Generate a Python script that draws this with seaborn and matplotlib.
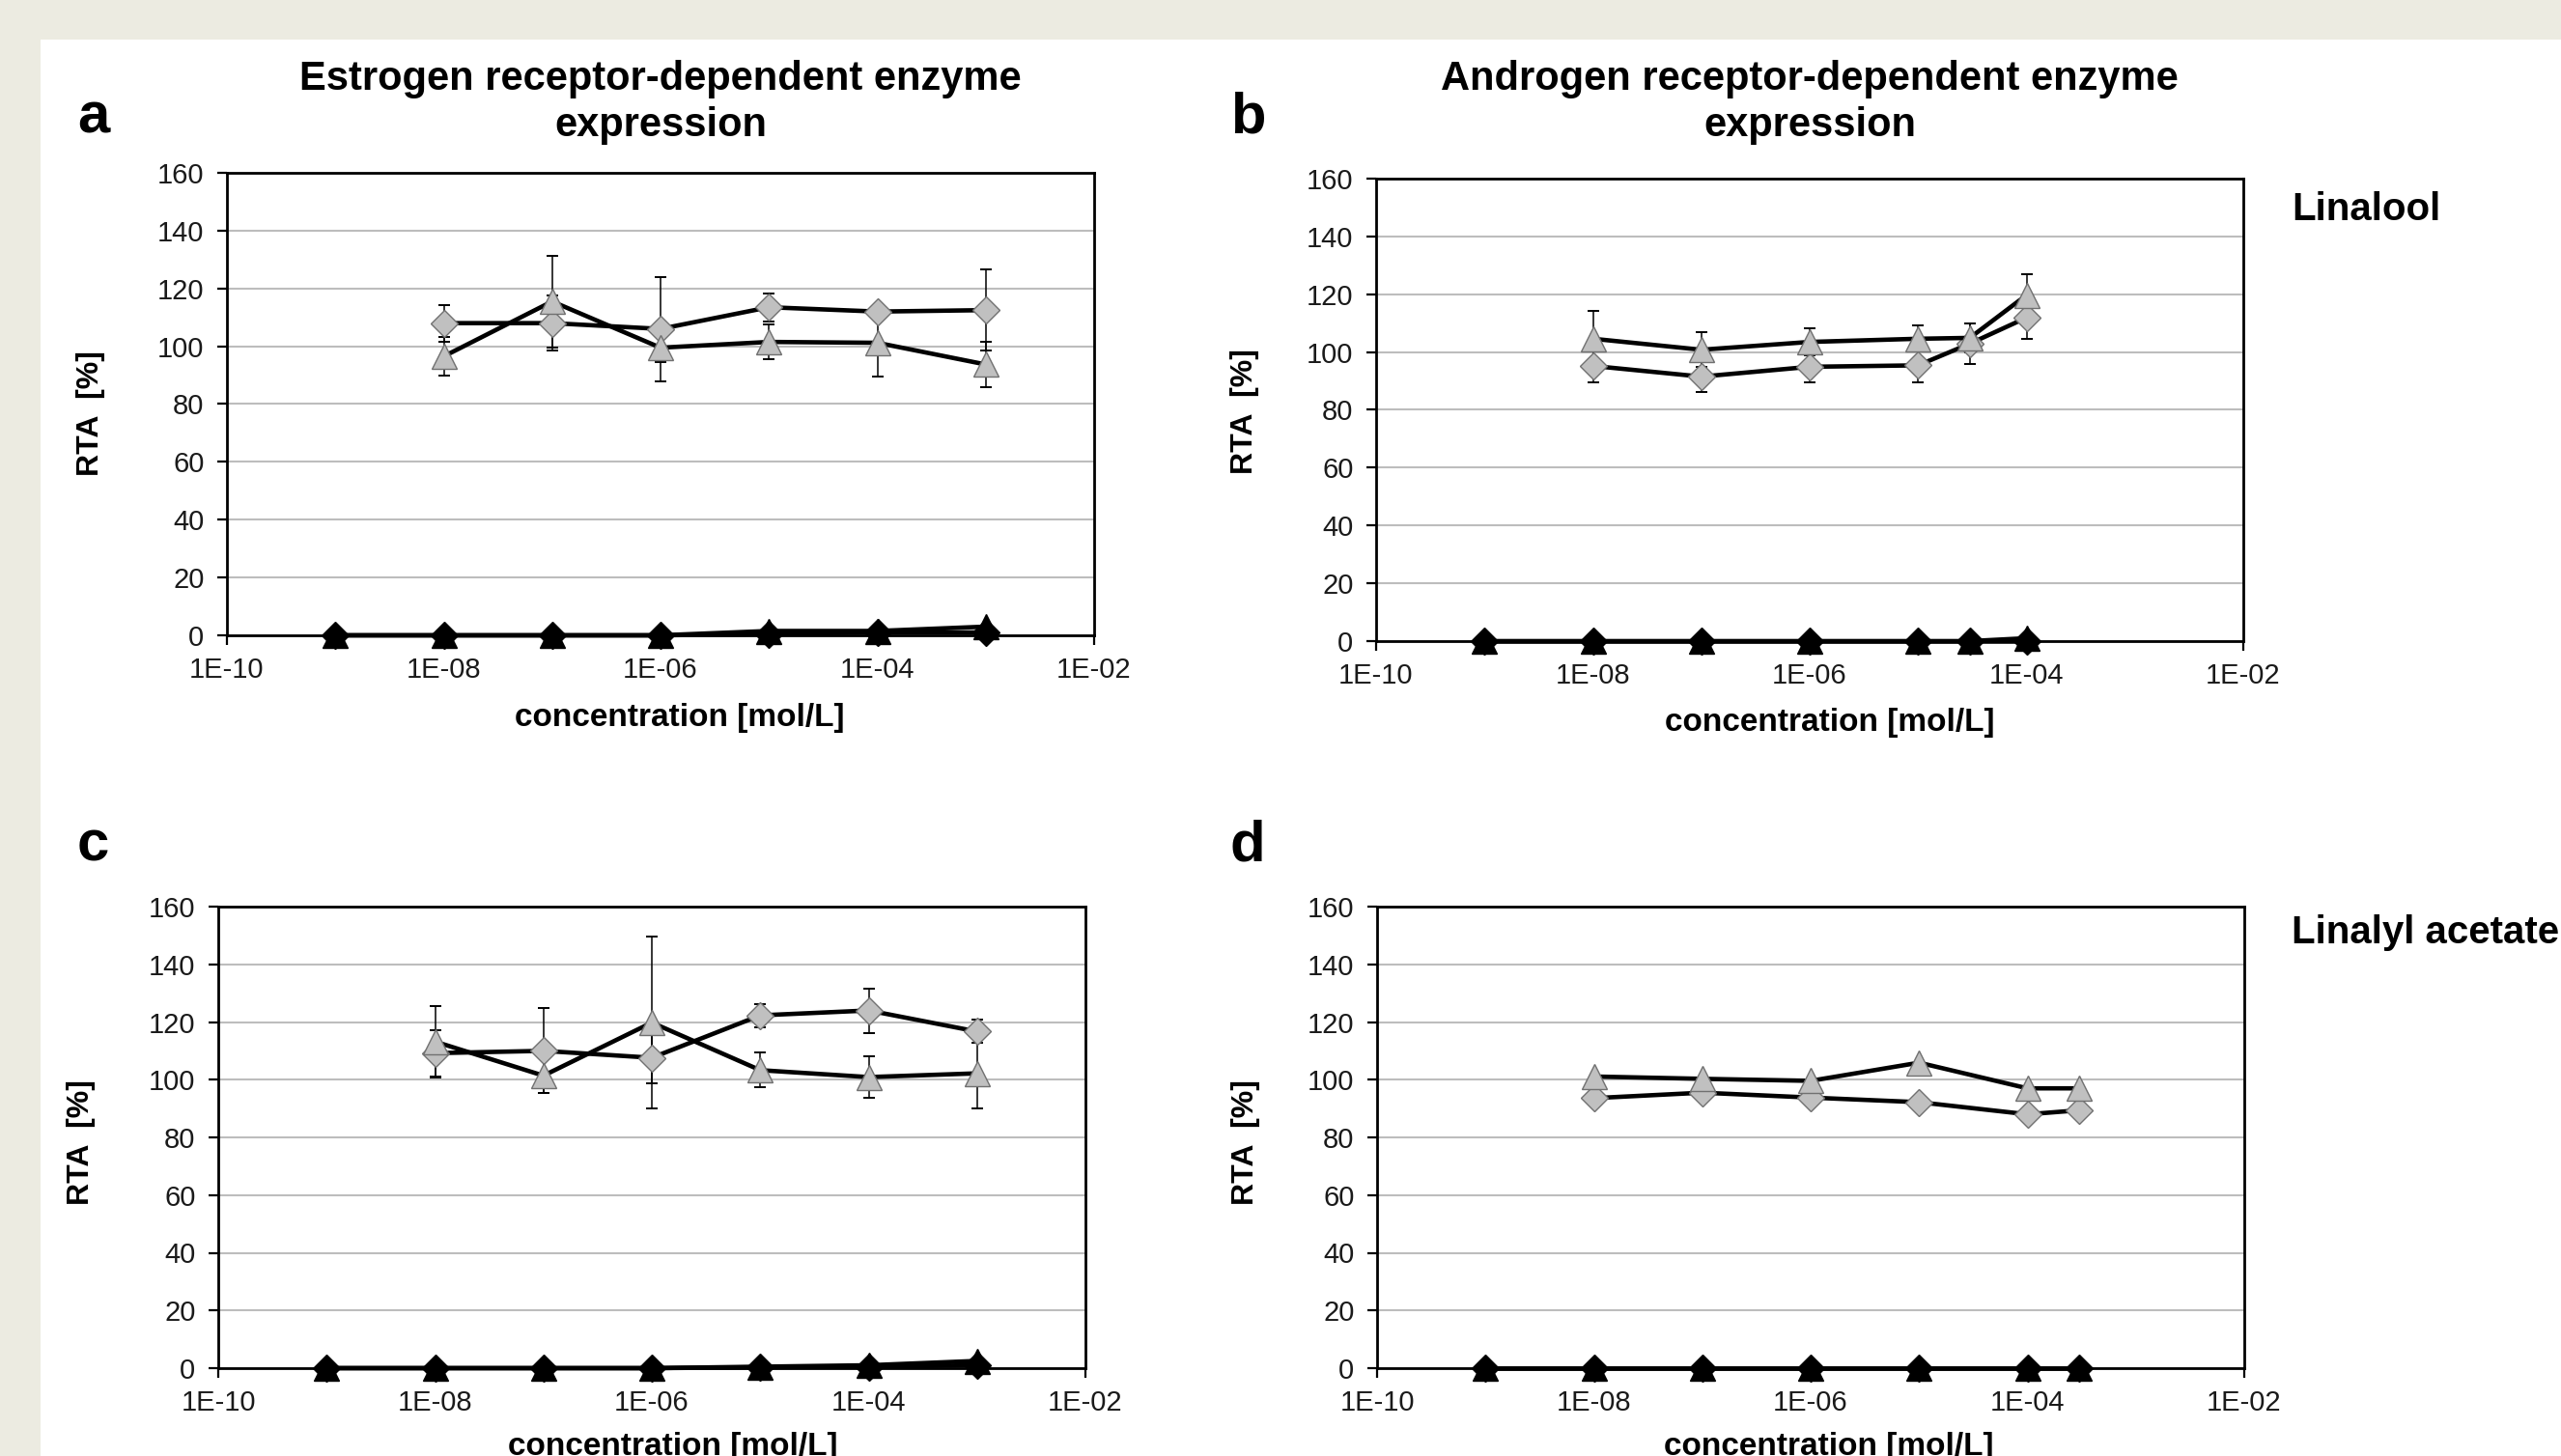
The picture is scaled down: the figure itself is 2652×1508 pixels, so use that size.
import matplotlib
matplotlib.use("Agg")
import matplotlib.pyplot as plt
from matplotlib.patches import Rectangle
from matplotlib.ticker import NullLocator
import seaborn as sns

# concentrations [mol/L]
conc_er = [1e-9, 1e-8, 1e-7, 1e-6, 1e-5, 1e-4, 1e-3]
conc_ar_lin = [1e-9, 1e-8, 1e-7, 1e-6, 1e-5, 3e-5, 1e-4]
conc_ar_la = [1e-9, 1e-8, 1e-7, 1e-6, 1e-5, 1e-4, 3e-4]

# a - estrogen receptor, linalool
a_diamond = [108, 108, 106, 113.5, 112, 112.5]
a_diamond_err = [6.3, 9.6, 18, 4.8, 2, 14]
a_triangle = [96.5, 115.5, 99.5, 101.5, 101.2, 93.7]
a_triangle_err = [6.8, 15.8, 5, 6, 11.7, 8]
a_ctrl_diamond = [0, 0, 0, 0, 0.5, 1, 1]
a_ctrl_triangle = [0, 0, 0, 0, 1.5, 1.5, 3]

# b - androgen receptor, linalool
b_diamond = [95.2, 91.5, 94.9, 95.4, 102.9, 111.9]
b_diamond_err = [5.7, 5.2, 5.4, 5.9, 7, 7.3]
b_triangle = [104.6, 100.8, 103.5, 104.6, 104.9, 119.7]
b_triangle_err = [9.5, 6, 4.7, 4.5, 5, 7.1]
b_ctrl_diamond = [0, 0, 0, 0, 0, 0, 0]
b_ctrl_triangle = [0, 0, 0, 0, 0, 0, 1]

# c - estrogen receptor, linalyl acetate
c_diamond = [109.2, 110, 107.6, 122.3, 124, 116.7]
c_diamond_err = [8, 14.7, 9, 4, 7.7, 4]
c_triangle = [113.2, 101.4, 119.8, 103.3, 100.9, 102.2]
c_triangle_err = [12.3, 6, 29.8, 6, 7.3, 12.3]
c_ctrl_diamond = [0, 0, 0, 0, 0.3, 0.5, 1]
c_ctrl_triangle = [0, 0, 0, 0, 0.5, 1, 2.5]

# d - androgen receptor, linalyl acetate (no visible error bars)
d_diamond = [93.6, 95.5, 93.8, 92.2, 88, 89.4]
d_triangle = [101.1, 100.3, 99.6, 105.9, 97, 97]
d_ctrl_diamond = [0, 0, 0, 0, 0, 0, 0]
d_ctrl_triangle = [0, 0, 0, 0, 0, 0, 0]

xtick_vals = [1e-10, 1e-8, 1e-6, 1e-4, 1e-2]
xtick_labels = ["1E-10", "1E-08", "1E-06", "1E-04", "1E-02"]

W, H = 2652, 1508
GREY = "#c0c0c0"
GREY_EDGE = "#707070"
LW = 3.3
MS_DIAMOND = 14
MS_TRIANGLE = 19

sns.set_theme(style="white")
plt.rcParams["font.family"] = ["Liberation Sans", "DejaVu Sans"]
plt.rcParams["text.color"] = "black"
plt.rcParams["axes.labelcolor"] = "black"


def px(x, y):
    # pixel position (top-left origin) -> figure fraction
    return x / W, 1 - y / H


def series(ax, x, y, marker, face, ms, z, clip=True):
    sns.lineplot(x=x, y=y, ax=ax, color="black", linewidth=LW, marker=marker,
                 markerfacecolor=face, markeredgecolor=GREY_EDGE if face == GREY else "black",
                 markeredgewidth=1.0, estimator=None, zorder=z, clip_on=clip)
    ax.lines[-1].set_markersize(ms)


def draw_panel(ax, conc, dia, dia_err, tri, tri_err, ctrl_dia, ctrl_tri):
    ax.set_xscale("log")
    xs = conc[1:]

    if dia_err is not None:
        ax.errorbar(xs, dia, yerr=dia_err, fmt="none", ecolor="black",
                    elinewidth=1.1, capsize=4.5, capthick=1.4, zorder=2.5)
        ax.errorbar(xs, tri, yerr=tri_err, fmt="none", ecolor="black",
                    elinewidth=1.1, capsize=4.5, capthick=1.4, zorder=2.5)

    series(ax, xs, dia, "D", GREY, MS_DIAMOND, 3)
    series(ax, xs, tri, "^", GREY, MS_TRIANGLE, 3)
    series(ax, conc, ctrl_dia, "D", "black", MS_DIAMOND, 4, clip=False)
    series(ax, conc, ctrl_tri, "^", "black", MS_TRIANGLE, 4, clip=False)

    ax.set_xlim(1e-10, 1e-2)
    ax.set_ylim(0, 160)
    ax.set_yticks(range(0, 161, 20))
    ax.set_xticks(xtick_vals)
    ax.set_xticklabels(xtick_labels)
    ax.xaxis.set_minor_locator(NullLocator())
    ax.yaxis.grid(True, color="#bdbdbd", lw=1.5)
    ax.xaxis.grid(False)
    ax.set_axisbelow(True)
    for s in ax.spines.values():
        s.set_color("black")
        s.set_linewidth(2.0)
    ax.tick_params(axis="both", which="major", direction="out", length=7,
                   width=1.6, color="black", labelsize=21, labelcolor="#1a1a1a",
                   left=True, bottom=True)
    ax.tick_params(axis="y", pad=10)
    ax.tick_params(axis="x", pad=9)

    ax.set_xlabel("concentration [mol/L]", fontsize=24, fontweight="bold", color="black")
    ax.set_ylabel("RTA  [%]", fontsize=23, fontweight="bold", color="black")
    ax.xaxis.label.set_va("center")
    ax.yaxis.label.set_va("center")


fig = plt.figure(figsize=(W / 100, H / 100), dpi=100)
fig.patch.set_facecolor("#ecebe1")
fig.patches.append(Rectangle((42 / W, 0), 1 - 42 / W, 1 - 41 / H,
                             transform=fig.transFigure, facecolor="white",
                             edgecolor="none", zorder=-10))

# axes boxes in pixels: left, top, right, bottom
boxes = {
    "a": (235, 179, 1133, 658),
    "b": (1425, 185, 2323, 664),
    "c": (226, 939, 1124, 1417),
    "d": (1426, 939, 2324, 1417),
}
panel_data = {
    "a": (conc_er, a_diamond, a_diamond_err, a_triangle, a_triangle_err, a_ctrl_diamond, a_ctrl_triangle),
    "b": (conc_ar_lin, b_diamond, b_diamond_err, b_triangle, b_triangle_err, b_ctrl_diamond, b_ctrl_triangle),
    "c": (conc_er, c_diamond, c_diamond_err, c_triangle, c_triangle_err, c_ctrl_diamond, c_ctrl_triangle),
    "d": (conc_ar_la, d_diamond, None, d_triangle, None, d_ctrl_diamond, d_ctrl_triangle),
}
ylabel_x = {"a": 94, "b": 1289, "c": 84, "d": 1290}
ylabel_y = {"a": 428, "b": 426, "c": 1183, "d": 1183}
xlabel_y = {"a": 744, "b": 748, "c": 1498, "d": 1498}
xlabel_x = {"a": 704, "b": 1895, "c": 697, "d": 1894}

for key, (l, t, r, b) in boxes.items():
    ax = fig.add_axes([l / W, 1 - b / H, (r - l) / W, (b - t) / H])
    ax.set_zorder(1)
    draw_panel(ax, *panel_data[key])
    ax.yaxis.set_label_coords((ylabel_x[key] - l) / (r - l), (b - ylabel_y[key]) / (b - t))
    ax.xaxis.set_label_coords((xlabel_x[key] - l) / (r - l), (b - xlabel_y[key]) / (b - t))

# titles
fig.text(*px(684, 106), "Estrogen receptor-dependent enzyme\nexpression",
         ha="center", va="center", fontsize=30, fontweight="bold", linespacing=1.25)
fig.text(*px(1874, 106), "Androgen receptor-dependent enzyme\nexpression",
         ha="center", va="center", fontsize=30, fontweight="bold", linespacing=1.25)

# panel letters
for letter, (x, y) in {"a": (80, 138), "b": (1274, 138), "c": (80, 891), "d": (1274, 891)}.items():
    fig.text(*px(x, y), letter, ha="left", va="baseline", fontsize=43, fontweight="bold")

# compound names
fig.text(*px(2373, 228), "Linalool", ha="left", va="baseline", fontsize=29, fontweight="bold")
fig.text(*px(2373, 977), "Linalyl acetate", ha="left", va="baseline", fontsize=29, fontweight="bold")

fig.savefig("out.png", dpi=100, facecolor=fig.get_facecolor())
